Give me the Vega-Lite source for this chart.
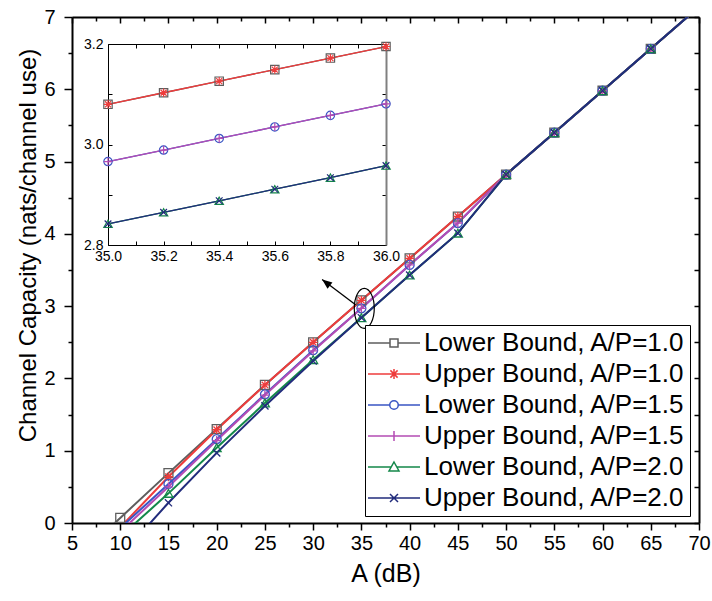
{
  "$schema": "https://vega.github.io/schema/vega-lite/v6.json",
  "width": 627,
  "height": 506,
  "autosize": {"type": "none"},
  "padding": {"left": 72, "top": 17, "right": 13, "bottom": 78},
  "background": "white",
  "config": {
    "font": "Liberation Sans",
    "view": {"stroke": null},
    "axis": {"grid": false, "labelFont": "Liberation Sans", "titleFont": "Liberation Sans", "labelColor": "black", "titleColor": "black", "domainColor": "black", "tickColor": "black", "titleFontWeight": "normal", "labelFlush": false, "labelOverlap": false}
  },
  "datasets": {
    "main": [
      {"s": "Lower Bound, A/P=1.0", "A": 5, "C": -0.55},
      {"s": "Lower Bound, A/P=1.0", "A": 10, "C": 0.07},
      {"s": "Lower Bound, A/P=1.0", "A": 15, "C": 0.69},
      {"s": "Lower Bound, A/P=1.0", "A": 20, "C": 1.30},
      {"s": "Lower Bound, A/P=1.0", "A": 25, "C": 1.91},
      {"s": "Lower Bound, A/P=1.0", "A": 30, "C": 2.50},
      {"s": "Lower Bound, A/P=1.0", "A": 35, "C": 3.08},
      {"s": "Lower Bound, A/P=1.0", "A": 40, "C": 3.66},
      {"s": "Lower Bound, A/P=1.0", "A": 45, "C": 4.24},
      {"s": "Lower Bound, A/P=1.0", "A": 50, "C": 4.82},
      {"s": "Lower Bound, A/P=1.0", "A": 55, "C": 5.40},
      {"s": "Lower Bound, A/P=1.0", "A": 60, "C": 5.98},
      {"s": "Lower Bound, A/P=1.0", "A": 65, "C": 6.56},
      {"s": "Lower Bound, A/P=1.0", "A": 70, "C": 7.14},
      {"s": "Upper Bound, A/P=1.0", "A": 10, "C": -0.06},
      {"s": "Upper Bound, A/P=1.0", "A": 15, "C": 0.64},
      {"s": "Upper Bound, A/P=1.0", "A": 20, "C": 1.29},
      {"s": "Upper Bound, A/P=1.0", "A": 25, "C": 1.91},
      {"s": "Upper Bound, A/P=1.0", "A": 30, "C": 2.50},
      {"s": "Upper Bound, A/P=1.0", "A": 35, "C": 3.08},
      {"s": "Upper Bound, A/P=1.0", "A": 40, "C": 3.66},
      {"s": "Upper Bound, A/P=1.0", "A": 45, "C": 4.24},
      {"s": "Upper Bound, A/P=1.0", "A": 50, "C": 4.82},
      {"s": "Upper Bound, A/P=1.0", "A": 55, "C": 5.40},
      {"s": "Upper Bound, A/P=1.0", "A": 60, "C": 5.98},
      {"s": "Upper Bound, A/P=1.0", "A": 65, "C": 6.56},
      {"s": "Upper Bound, A/P=1.0", "A": 70, "C": 7.14},
      {"s": "Lower Bound, A/P=1.5", "A": 10, "C": -0.07},
      {"s": "Lower Bound, A/P=1.5", "A": 15, "C": 0.54},
      {"s": "Lower Bound, A/P=1.5", "A": 20, "C": 1.16},
      {"s": "Lower Bound, A/P=1.5", "A": 25, "C": 1.78},
      {"s": "Lower Bound, A/P=1.5", "A": 30, "C": 2.39},
      {"s": "Lower Bound, A/P=1.5", "A": 35, "C": 2.97},
      {"s": "Lower Bound, A/P=1.5", "A": 40, "C": 3.57},
      {"s": "Lower Bound, A/P=1.5", "A": 45, "C": 4.15},
      {"s": "Lower Bound, A/P=1.5", "A": 50, "C": 4.82},
      {"s": "Lower Bound, A/P=1.5", "A": 55, "C": 5.40},
      {"s": "Lower Bound, A/P=1.5", "A": 60, "C": 5.98},
      {"s": "Lower Bound, A/P=1.5", "A": 65, "C": 6.56},
      {"s": "Lower Bound, A/P=1.5", "A": 70, "C": 7.14},
      {"s": "Upper Bound, A/P=1.5", "A": 10, "C": -0.12},
      {"s": "Upper Bound, A/P=1.5", "A": 15, "C": 0.50},
      {"s": "Upper Bound, A/P=1.5", "A": 20, "C": 1.14},
      {"s": "Upper Bound, A/P=1.5", "A": 25, "C": 1.77},
      {"s": "Upper Bound, A/P=1.5", "A": 30, "C": 2.38},
      {"s": "Upper Bound, A/P=1.5", "A": 35, "C": 2.97},
      {"s": "Upper Bound, A/P=1.5", "A": 40, "C": 3.57},
      {"s": "Upper Bound, A/P=1.5", "A": 45, "C": 4.15},
      {"s": "Upper Bound, A/P=1.5", "A": 50, "C": 4.82},
      {"s": "Upper Bound, A/P=1.5", "A": 55, "C": 5.40},
      {"s": "Upper Bound, A/P=1.5", "A": 60, "C": 5.98},
      {"s": "Upper Bound, A/P=1.5", "A": 65, "C": 6.56},
      {"s": "Upper Bound, A/P=1.5", "A": 70, "C": 7.14},
      {"s": "Lower Bound, A/P=2.0", "A": 10, "C": -0.19},
      {"s": "Lower Bound, A/P=2.0", "A": 15, "C": 0.41},
      {"s": "Lower Bound, A/P=2.0", "A": 20, "C": 1.04},
      {"s": "Lower Bound, A/P=2.0", "A": 25, "C": 1.66},
      {"s": "Lower Bound, A/P=2.0", "A": 30, "C": 2.26},
      {"s": "Lower Bound, A/P=2.0", "A": 35, "C": 2.84},
      {"s": "Lower Bound, A/P=2.0", "A": 40, "C": 3.43},
      {"s": "Lower Bound, A/P=2.0", "A": 45, "C": 4.01},
      {"s": "Lower Bound, A/P=2.0", "A": 50, "C": 4.82},
      {"s": "Lower Bound, A/P=2.0", "A": 55, "C": 5.40},
      {"s": "Lower Bound, A/P=2.0", "A": 60, "C": 5.98},
      {"s": "Lower Bound, A/P=2.0", "A": 65, "C": 6.56},
      {"s": "Lower Bound, A/P=2.0", "A": 70, "C": 7.14},
      {"s": "Upper Bound, A/P=2.0", "A": 10, "C": -0.46},
      {"s": "Upper Bound, A/P=2.0", "A": 15, "C": 0.28},
      {"s": "Upper Bound, A/P=2.0", "A": 20, "C": 0.97},
      {"s": "Upper Bound, A/P=2.0", "A": 25, "C": 1.62},
      {"s": "Upper Bound, A/P=2.0", "A": 30, "C": 2.24},
      {"s": "Upper Bound, A/P=2.0", "A": 35, "C": 2.84},
      {"s": "Upper Bound, A/P=2.0", "A": 40, "C": 3.43},
      {"s": "Upper Bound, A/P=2.0", "A": 45, "C": 4.01},
      {"s": "Upper Bound, A/P=2.0", "A": 50, "C": 4.82},
      {"s": "Upper Bound, A/P=2.0", "A": 55, "C": 5.40},
      {"s": "Upper Bound, A/P=2.0", "A": 60, "C": 5.98},
      {"s": "Upper Bound, A/P=2.0", "A": 65, "C": 6.56},
      {"s": "Upper Bound, A/P=2.0", "A": 70, "C": 7.14}
    ],
    "inset": [
      {"s": "Lower Bound, A/P=1.0", "A": 35.0, "C": 3.080},
      {"s": "Lower Bound, A/P=1.0", "A": 35.2, "C": 3.103},
      {"s": "Lower Bound, A/P=1.0", "A": 35.4, "C": 3.126},
      {"s": "Lower Bound, A/P=1.0", "A": 35.6, "C": 3.149},
      {"s": "Lower Bound, A/P=1.0", "A": 35.8, "C": 3.172},
      {"s": "Lower Bound, A/P=1.0", "A": 36.0, "C": 3.195},
      {"s": "Upper Bound, A/P=1.0", "A": 35.0, "C": 3.080},
      {"s": "Upper Bound, A/P=1.0", "A": 35.2, "C": 3.103},
      {"s": "Upper Bound, A/P=1.0", "A": 35.4, "C": 3.126},
      {"s": "Upper Bound, A/P=1.0", "A": 35.6, "C": 3.149},
      {"s": "Upper Bound, A/P=1.0", "A": 35.8, "C": 3.172},
      {"s": "Upper Bound, A/P=1.0", "A": 36.0, "C": 3.195},
      {"s": "Lower Bound, A/P=1.5", "A": 35.0, "C": 2.966},
      {"s": "Lower Bound, A/P=1.5", "A": 35.2, "C": 2.989},
      {"s": "Lower Bound, A/P=1.5", "A": 35.4, "C": 3.012},
      {"s": "Lower Bound, A/P=1.5", "A": 35.6, "C": 3.035},
      {"s": "Lower Bound, A/P=1.5", "A": 35.8, "C": 3.058},
      {"s": "Lower Bound, A/P=1.5", "A": 36.0, "C": 3.081},
      {"s": "Upper Bound, A/P=1.5", "A": 35.0, "C": 2.966},
      {"s": "Upper Bound, A/P=1.5", "A": 35.2, "C": 2.989},
      {"s": "Upper Bound, A/P=1.5", "A": 35.4, "C": 3.012},
      {"s": "Upper Bound, A/P=1.5", "A": 35.6, "C": 3.035},
      {"s": "Upper Bound, A/P=1.5", "A": 35.8, "C": 3.058},
      {"s": "Upper Bound, A/P=1.5", "A": 36.0, "C": 3.081},
      {"s": "Lower Bound, A/P=2.0", "A": 35.0, "C": 2.842},
      {"s": "Lower Bound, A/P=2.0", "A": 35.2, "C": 2.865},
      {"s": "Lower Bound, A/P=2.0", "A": 35.4, "C": 2.888},
      {"s": "Lower Bound, A/P=2.0", "A": 35.6, "C": 2.911},
      {"s": "Lower Bound, A/P=2.0", "A": 35.8, "C": 2.934},
      {"s": "Lower Bound, A/P=2.0", "A": 36.0, "C": 2.958},
      {"s": "Upper Bound, A/P=2.0", "A": 35.0, "C": 2.842},
      {"s": "Upper Bound, A/P=2.0", "A": 35.2, "C": 2.865},
      {"s": "Upper Bound, A/P=2.0", "A": 35.4, "C": 2.888},
      {"s": "Upper Bound, A/P=2.0", "A": 35.6, "C": 2.911},
      {"s": "Upper Bound, A/P=2.0", "A": 35.8, "C": 2.934},
      {"s": "Upper Bound, A/P=2.0", "A": 36.0, "C": 2.958}
    ],
    "ellipse": [{"A": 35.3, "C": 2.97}],
    "arrow": [{"A": 34.4, "C": 3.02, "A2": 30.93, "C2": 3.37}]
  },
  "layer": [
    {
      "layer": [
        {
          "data": {"name": "main"},
          "mark": {"type": "line", "clip": true, "strokeWidth": 2},
          "encoding": {
            "x": {"field": "A", "type": "quantitative", "scale": {"domain": [5, 70], "nice": false, "zero": false},
              "axis": {"orient": "bottom", "values": [5,10,15,20,25,30,35,40,45,50,55,60,65,70], "tickSize": 7, "tickWidth": 1.5, "domainWidth": 2, "labelFontSize": 20, "labelPadding": 3, "title": "A (dB)", "titleFontSize": 25, "titlePadding": 8}},
            "y": {"field": "C", "type": "quantitative", "scale": {"domain": [0, 7], "nice": false, "zero": false},
              "axis": {"orient": "left", "values": [0,1,2,3,4,5,6,7], "tickSize": 8, "tickWidth": 1.5, "domainWidth": 2, "labelFontSize": 20, "labelPadding": 9, "title": "Channel Capacity (nats/channel use)", "titleFontSize": 24, "titleX": -37, "titleY": 228, "titleBaseline": "alphabetic", "titleAngle": 270, "titleAlign": "center"}},
            "color": {"field": "s", "type": "nominal", "legend": null,
              "scale": {"domain": ["Lower Bound, A/P=1.0", "Upper Bound, A/P=1.0", "Lower Bound, A/P=1.5", "Upper Bound, A/P=1.5", "Lower Bound, A/P=2.0", "Upper Bound, A/P=2.0"],
                "range": ["#5e5e5e", "#ee3c3c", "#3a56c4", "#b44cb4", "#14884a", "#222c7c"]}}
          }
        },
        {
          "data": {"name": "main"},
          "transform": [{"filter": "datum.C >= 0 && datum.C <= 7"}],
          "mark": {"type": "point", "filled": false, "size": 80, "strokeWidth": 1.3, "opacity": 1},
          "encoding": {
            "x": {"field": "A", "type": "quantitative", "axis": {"orient": "bottom", "values": [7.5,12.5,17.5,22.5,27.5,32.5,37.5,42.5,47.5,52.5,57.5,62.5,67.5], "tickSize": 4, "tickWidth": 1.5, "labels": false, "domain": false, "title": null}},
            "y": {"field": "C", "type": "quantitative", "axis": {"orient": "left", "values": [0.5,1.5,2.5,3.5,4.5,5.5,6.5], "tickSize": 4, "tickWidth": 1.5, "labels": false, "domain": false, "title": null}},
            "color": {"field": "s", "type": "nominal", "legend": null},
            "shape": {"field": "s", "type": "nominal", "legend": null,
              "scale": {"domain": ["Lower Bound, A/P=1.0", "Upper Bound, A/P=1.0", "Lower Bound, A/P=1.5", "Upper Bound, A/P=1.5", "Lower Bound, A/P=2.0", "Upper Bound, A/P=2.0"],
                "range": ["square", "M-1,0H1M0,-1V1M-0.72,-0.72L0.72,0.72M-0.72,0.72L0.72,-0.72", "circle", "M-1,0H1M0,-1V1", "triangle-up", "M-0.8,-0.8L0.8,0.8M-0.8,0.8L0.8,-0.8"]}}
          }
        },
        {
          "data": {"name": "main"},
          "transform": [{"filter": "false"}],
          "mark": {"type": "point", "filled": false, "size": 100, "strokeWidth": 1.5, "opacity": 1},
          "encoding": {
            "stroke": {"field": "s", "type": "nominal",
              "scale": {"domain": ["Lower Bound, A/P=1.0", "Upper Bound, A/P=1.0", "Lower Bound, A/P=1.5", "Upper Bound, A/P=1.5", "Lower Bound, A/P=2.0", "Upper Bound, A/P=2.0"],
                "range": ["#5e5e5e", "#ee3c3c", "#3a56c4", "#b44cb4", "#14884a", "#222c7c"]},
              "legend": {"orient": "none", "legendX": 293, "legendY": 308, "title": null, "labelFontSize": 26, "labelFont": "Liberation Sans", "labelColor": "black", "labelLimit": 500, "symbolSize": 100, "symbolStrokeWidth": 1.5, "symbolOffset": 11, "labelOffset": 17, "padding": 5, "rowPadding": 5, "strokeColor": "black", "fillColor": "white", "cornerRadius": 0}},
            "shape": {"field": "s", "type": "nominal",
              "scale": {"domain": ["Lower Bound, A/P=1.0", "Upper Bound, A/P=1.0", "Lower Bound, A/P=1.5", "Upper Bound, A/P=1.5", "Lower Bound, A/P=2.0", "Upper Bound, A/P=2.0"],
                "range": ["M-5.2,0H-0.8M0.8,0H5.2M-0.8,-0.8H0.8V0.8H-0.8Z", "M-5.2,0H5.2M0,-1V1M-0.72,-0.72L0.72,0.72M-0.72,0.72L0.72,-0.72", "M-5.2,0H-0.85M0.85,0H5.2M-0.85,0A0.85,0.85 0 1,0 0.85,0A0.85,0.85 0 1,0 -0.85,0Z", "M-5.2,0H5.2M0,-1V1", "M-5.2,0H-0.55M0.55,0H5.2M0,-1L1,0.8H-1Z", "M-5.2,0H5.2M-0.8,-0.8L0.8,0.8M-0.8,0.8L0.8,-0.8"]},
              "legend": {"orient": "none", "legendX": 293, "legendY": 308, "title": null, "labelFontSize": 26, "labelFont": "Liberation Sans", "labelColor": "black", "labelLimit": 500, "symbolSize": 100, "symbolStrokeWidth": 1.5, "symbolOffset": 11, "labelOffset": 17, "padding": 5, "rowPadding": 5, "strokeColor": "black", "fillColor": "white", "cornerRadius": 0}}
          }
        },
        {
          "data": {"name": "ellipse"},
          "mark": {"type": "point", "shape": "M0,-1A0.5,1 0 1,1 0,1A0.5,1 0 1,1 0,-1Z", "size": 1600, "filled": false, "color": "black", "strokeWidth": 1.2, "opacity": 1},
          "encoding": {
            "x": {"field": "A", "type": "quantitative", "axis": null},
            "y": {"field": "C", "type": "quantitative", "axis": null}
          }
        },
        {
          "data": {"name": "arrow"},
          "mark": {"type": "rule", "color": "black", "strokeWidth": 1.3},
          "encoding": {
            "x": {"field": "A", "type": "quantitative", "axis": null},
            "y": {"field": "C", "type": "quantitative", "axis": null},
            "x2": {"field": "A2"},
            "y2": {"field": "C2"}
          }
        },
        {
          "data": {"name": "arrow"},
          "mark": {"type": "point", "shape": "M0,0L0.8,2L-0.8,2Z", "size": 100, "filled": true, "color": "black", "angle": 308, "opacity": 1},
          "encoding": {
            "x": {"field": "A2", "type": "quantitative", "axis": null},
            "y": {"field": "C2", "type": "quantitative", "axis": null}
          }
        },
        {
          "data": {"name": "main"},
          "mark": {"type": "point", "opacity": 0},
          "encoding": {
            "x": {"field": "A", "type": "quantitative", "axis": {"orient": "top", "values": [5,10,15,20,25,30,35,40,45,50,55,60,65,70], "tickSize": -6, "tickWidth": 1.5, "labels": false, "domain": true, "domainWidth": 2, "title": null}},
            "y": {"field": "C", "type": "quantitative", "axis": {"orient": "right", "values": [0,1,2,3,4,5,6,7], "tickSize": -5, "tickWidth": 1.5, "labels": false, "domain": true, "domainWidth": 2, "title": null}}
          }
        },
        {
          "data": {"name": "main"},
          "mark": {"type": "point", "opacity": 0},
          "encoding": {
            "x": {"field": "A", "type": "quantitative", "axis": {"orient": "top", "values": [7.5,12.5,17.5,22.5,27.5,32.5,37.5,42.5,47.5,52.5,57.5,62.5,67.5], "tickSize": -4, "tickWidth": 1.5, "labels": false, "domain": false, "title": null}},
            "y": {"field": "C", "type": "quantitative", "axis": {"orient": "right", "values": [0.5,1.5,2.5,3.5,4.5,5.5,6.5], "tickSize": -5, "tickWidth": 1.5, "labels": false, "domain": false, "title": null}}
          }
        }
      ],
      "resolve": {"axis": {"x": "independent", "y": "independent"}, "scale": {"shape": "independent", "stroke": "independent"}}
    },
    {
      "layer": [
        {
          "data": {"name": "inset"},
          "mark": {"type": "line", "strokeWidth": 1.3},
          "encoding": {
            "x": {"field": "A", "type": "quantitative", "scale": {"domain": [35, 36], "range": [36, 314], "nice": false, "zero": false},
              "axis": {"orient": "bottom", "offset": -278, "values": [35, 35.2, 35.4, 35.6, 35.8, 36], "format": ".1f", "ticks": false, "domainWidth": 1, "labelFontSize": 14, "labelPadding": 4, "title": null}},
            "y": {"field": "C", "type": "quantitative", "scale": {"domain": [2.8, 3.2], "range": [228, 27], "nice": false, "zero": false},
              "axis": {"orient": "left", "offset": -36, "values": [2.8, 3.0, 3.2], "format": ".1f", "ticks": false, "domainWidth": 1, "labelFontSize": 14, "labelPadding": 5, "title": null}},
            "color": {"field": "s", "type": "nominal", "legend": null}
          }
        },
        {
          "data": {"name": "inset"},
          "mark": {"type": "point", "filled": false, "size": 70, "strokeWidth": 1.2, "opacity": 1},
          "encoding": {
            "x": {"field": "A", "type": "quantitative", "axis": {"orient": "bottom", "offset": -278, "values": [35, 35.1, 35.2, 35.3, 35.4, 35.5, 35.6, 35.7, 35.8, 35.9, 36], "tickSize": -4, "labels": false, "domain": false, "title": null}},
            "y": {"field": "C", "type": "quantitative", "axis": {"orient": "left", "offset": -36, "values": [2.8, 2.9, 3.0, 3.1, 3.2], "tickSize": -4, "labels": false, "domain": false, "title": null}},
            "color": {"field": "s", "type": "nominal", "legend": null},
            "shape": {"field": "s", "type": "nominal", "legend": null,
              "scale": {"domain": ["Lower Bound, A/P=1.0", "Upper Bound, A/P=1.0", "Lower Bound, A/P=1.5", "Upper Bound, A/P=1.5", "Lower Bound, A/P=2.0", "Upper Bound, A/P=2.0"],
                "range": ["square", "M-1,0H1M0,-1V1M-0.72,-0.72L0.72,0.72M-0.72,0.72L0.72,-0.72", "circle", "M-1,0H1M0,-1V1", "triangle-up", "M-0.8,-0.8L0.8,0.8M-0.8,0.8L0.8,-0.8"]}}
          }
        },
        {
          "data": {"name": "inset"},
          "mark": {"type": "point", "opacity": 0},
          "encoding": {
            "x": {"field": "A", "type": "quantitative", "axis": {"orient": "top", "offset": -27, "values": [35, 35.1, 35.2, 35.3, 35.4, 35.5, 35.6, 35.7, 35.8, 35.9, 36], "tickSize": -4, "labels": false, "domain": true, "domainWidth": 1, "title": null}},
            "y": {"field": "C", "type": "quantitative", "axis": {"orient": "right", "offset": -313, "values": [2.8, 2.9, 3.0, 3.1, 3.2], "tickSize": -4, "labels": false, "domain": true, "domainColor": "#808080", "domainWidth": 2, "title": null}}
          }
        }
      ],
      "resolve": {"axis": {"x": "independent", "y": "independent"}}
    }
  ],
  "resolve": {"scale": {"x": "independent", "y": "independent", "shape": "independent", "stroke": "independent"}}
}
